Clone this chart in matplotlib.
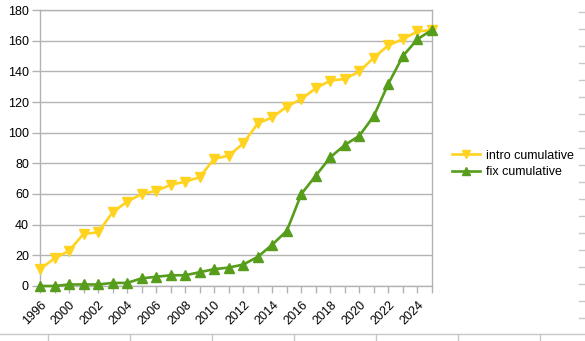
import matplotlib
matplotlib.use("Agg")
import matplotlib.pyplot as plt
from matplotlib.lines import Line2D

plt.rcParams['font.family'] = ['Liberation Sans', 'DejaVu Sans']

# categories (year labels shown on every other tick)
years = ['1996', '1999', '2000', '2001', '2002', '2003', '2004', '2005', '2006',
         '2007', '2008', '2009', '2010', '2011', '2012', '2013', '2014', '2015',
         '2016', '2017', '2018', '2019', '2020', '2021', '2022', '2023', '2024',
         '2025']
intro_cum = [11, 18, 23, 34, 35, 48, 55, 60, 62, 66, 68, 71, 83, 85, 93, 106,
             110, 117, 122, 129, 134, 135, 140, 149, 157, 161, 166, 167]
fix_cum = [0, 0, 1, 1, 1, 2, 2, 5, 6, 7, 7, 9, 11, 12, 14, 19, 27, 36, 60, 72,
           84, 92, 98, 111, 132, 150, 161, 167]

yellow = '#ffd320'
green = '#579d1c'
grey = '#b3b3b3'

W, H = 585, 341
fig = plt.figure(figsize=(W / 100, H / 100), dpi=100)
ax = fig.add_axes([40 / W, (H - 286) / H, 392 / W, 276 / H])

x = list(range(len(years)))
ax.plot(x, intro_cum, color=yellow, lw=1.9, marker='v', ms=7.5,
        label='intro cumulative', clip_on=False, zorder=3)
ax.plot(x, fix_cum, color=green, lw=1.9, marker='^', ms=7.5,
        label='fix cumulative', clip_on=False, zorder=4)

ax.set_xlim(0, len(years) - 1)
ax.set_ylim(0, 180)
ax.set_yticks(range(0, 181, 20))
ax.yaxis.grid(True, color=grey, lw=1)
ax.set_axisbelow(True)

ax.set_xticks(x)
ax.set_xticklabels([y if i % 2 == 0 else '' for i, y in enumerate(years)],
                   rotation=45, ha='right', va='top', rotation_mode='anchor')
ax.tick_params(axis='x', length=5, color=grey, width=1, pad=4, labelsize=9)
ax.tick_params(axis='y', length=6, color=grey, width=1, pad=2, labelsize=9)
for s in ax.spines.values():
    s.set_color(grey)
    s.set_linewidth(1)

fig.legend(loc='center left', bbox_to_anchor=(446 / W, 1 - 164 / H),
           frameon=False, fontsize=9, handlelength=2.2, handletextpad=0.5,
           labelspacing=0.35, borderpad=0, markerscale=0.75)

# sheet edges around the chart
lc = '#c8c8c8'
fig.add_artist(Line2D([0, 1], [1 - 334 / H] * 2, color=lc, lw=1))
for px in [48, 130, 212, 294, 376, 458, 540]:
    fig.add_artist(Line2D([px / W] * 2, [0, 1 - 334 / H], color=lc, lw=1))
for py in range(12, 320, 17):
    fig.add_artist(Line2D([579 / W, 1], [1 - py / H] * 2, color=lc, lw=1))

fig.savefig('out.png', dpi=100)
